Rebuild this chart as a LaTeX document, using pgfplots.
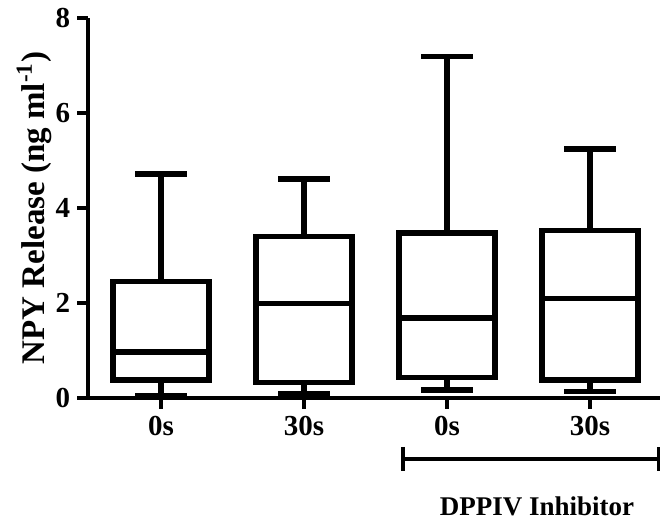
\documentclass[border=0pt]{standalone}
\usepackage{pgfplots}
\pgfplotsset{compat=1.18}
\usepgfplotslibrary{statistics}
\usepackage{fontspec}
\setmainfont{Liberation Serif}
\begin{document}
\begin{tikzpicture}
\begin{axis}[
  scale only axis,
  width=286pt, height=190pt,
  xmin=0.49, xmax=4.49, ymin=0, ymax=8,
  axis x line*=bottom, axis y line*=left,
  every outer x axis line/.append style={line width=2pt},
  every outer y axis line/.append style={line width=2pt},
  axis line style={line width=2pt},
  xtick={1,2,3,4}, xticklabels={0s,30s,0s,30s},
  ytick={0,2,4,6,8},
  major tick length=5.5pt,
  tick style={line width=2pt, black},
  tick align=outside,
  /pgf/number format/assume math mode=true,
  tick label style={font=\bfseries\fontsize{14.5}{16}\selectfont},
  ylabel={NPY Release (ng ml\textsuperscript{-1})},
  ylabel style={font=\bfseries\fontsize{16.5}{18}\selectfont, yshift=-5pt},
  clip=false,
  boxplot/draw direction=y,
  boxplot/box extend=0.67,
  boxplot/whisker extend=0.36,
  boxplot/every box/.style={line width=2.7pt},
  boxplot/every whisker/.style={line width=2.7pt},
  boxplot/every median/.style={line width=2.7pt},
]
\addplot+[black, line width=2.7pt, mark=none, solid,
  boxplot prepared={draw position=1, lower whisker=0.04, lower quartile=0.38,
    median=0.97, upper quartile=2.45, upper whisker=4.72}] coordinates {};
\addplot+[black, line width=2.7pt, mark=none, solid,
  boxplot prepared={draw position=2, lower whisker=0.08, lower quartile=0.32,
    median=1.99, upper quartile=3.40, upper whisker=4.61}] coordinates {};
\addplot+[black, line width=2.7pt, mark=none, solid,
  boxplot prepared={draw position=3, lower whisker=0.17, lower quartile=0.43,
    median=1.68, upper quartile=3.47, upper whisker=7.19}] coordinates {};
\addplot+[black, line width=2.7pt, mark=none, solid,
  boxplot prepared={draw position=4, lower whisker=0.13, lower quartile=0.38,
    median=2.10, upper quartile=3.52, upper whisker=5.24}] coordinates {};
\draw[line width=2pt] (axis cs:2.69,-1.28) -- (axis cs:4.48,-1.28);
\draw[line width=2pt] (axis cs:2.69,-1.03) -- (axis cs:2.69,-1.53);
\draw[line width=2pt] (axis cs:4.48,-1.03) -- (axis cs:4.48,-1.53);
\node[font=\bfseries\fontsize{13.5}{15}\selectfont, anchor=base] at (axis cs:3.63,-2.47) {DPPIV Inhibitor};
\coordinate (bl) at (axis cs:-0.126,-2.67);
\coordinate (tr) at (axis cs:4.49,8.38);
\end{axis}
\pgfresetboundingbox
\path[use as bounding box] (bl) rectangle (tr);
\end{tikzpicture}
\end{document}
